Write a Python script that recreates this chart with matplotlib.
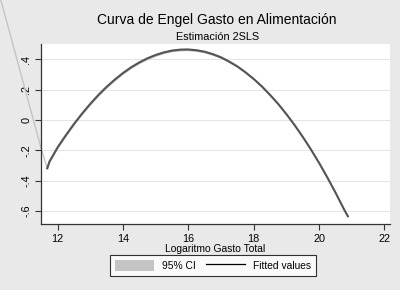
import matplotlib.pyplot as plt
from matplotlib.patches import Patch
from matplotlib.lines import Line2D

plt.rcParams['font.family'] = ['Liberation Sans', 'DejaVu Sans']

# fitted values
gasto = [11.68, 11.75, 12.0, 12.25, 12.5, 12.75, 13.0, 13.25, 13.5, 13.75,
         14.0, 14.25, 14.5, 14.75, 15.0, 15.25, 15.5, 15.75, 15.92, 16.0,
         16.25, 16.5, 16.75, 17.0, 17.25, 17.5, 17.75, 18.0, 18.25, 18.5,
         18.75, 19.0, 19.25, 19.5, 19.75, 20.0, 20.25, 20.5, 20.75, 20.88]
fitted = [-0.318, -0.273, -0.179, -0.100, -0.025, 0.044, 0.108, 0.167,
          0.220, 0.268, 0.311, 0.349, 0.381, 0.408, 0.430, 0.447, 0.459,
          0.465, 0.466, 0.466, 0.461, 0.451, 0.435, 0.414, 0.386, 0.354,
          0.315, 0.271, 0.222, 0.166, 0.106, 0.039, -0.033, -0.111, -0.194,
          -0.283, -0.378, -0.478, -0.584, -0.635]
ci_half = 0.008

# part of the CI band that escapes the plot region on the left
ci_x = [10.15, 11.49, 11.68]
ci_y = [0.88, -0.185, -0.318]

yticks = [-0.6, -0.4, -0.2, 0, 0.2, 0.4]
ytick_labels = ['-.6', '-.4', '-.2', '0', '.2', '.4']
xticks = [12, 14, 16, 18, 20, 22]

bg = '#e9e9e9'
fig = plt.figure(figsize=(4, 2.9), dpi=100, facecolor=bg)
ax = fig.add_axes([0.1025, 0.2276, 0.8725, 0.62])
ax.set_facecolor('white')

for yv in yticks:
    ax.axhline(yv, color='#e4e4e4', lw=0.7, zorder=0)

lo = [f - ci_half for f in fitted]
hi = [f + ci_half for f in fitted]
ax.fill_between(gasto, lo, hi, color='#bdbdbd', lw=0, zorder=2)
ax.plot(ci_x, ci_y, color='#c4c4c4', lw=1.0, clip_on=False, zorder=2)
ax.plot(gasto, fitted, color='#555555', lw=1.5, zorder=3)

ax.set_xlim(11.489, 22.17)
ax.set_ylim(-0.686, 0.501)
ax.set_xticks(xticks)
ax.set_yticks(yticks)
ax.set_yticklabels(ytick_labels, rotation=90, va='center')
ax.tick_params(axis='both', labelsize=7.8, length=4, width=0.8,
               color='#333333', pad=3)
for s in ['top', 'right']:
    ax.spines[s].set_visible(False)
for s in ['left', 'bottom']:
    ax.spines[s].set_color('#333333')
    ax.spines[s].set_linewidth(0.9)

ax.set_xlabel('Logaritmo Gasto Total', fontsize=7.4, labelpad=0)

fig.text(0.543, 0.93, 'Curva de Engel Gasto en Alimentación', ha='center',
         va='center', fontsize=10)
fig.text(0.543, 0.872, 'Estimación 2SLS', ha='center', va='center',
         fontsize=7.8)

handles = [Patch(facecolor='#c4c4c4', edgecolor='none'),
           Line2D([0], [0], color='black', lw=0.9)]
leg = fig.legend(handles, ['95% CI', 'Fitted values'], loc='center',
                 bbox_to_anchor=(0.533, 0.085), ncol=2, fontsize=7.4,
                 frameon=True, fancybox=False, handlelength=3.8,
                 handleheight=1.3, columnspacing=1.0, borderpad=0.45,
                 handletextpad=0.8, borderaxespad=0.2)
leg.get_frame().set_edgecolor('black')
leg.get_frame().set_linewidth(0.8)

fig.savefig('out.png', dpi=100, facecolor=bg)
